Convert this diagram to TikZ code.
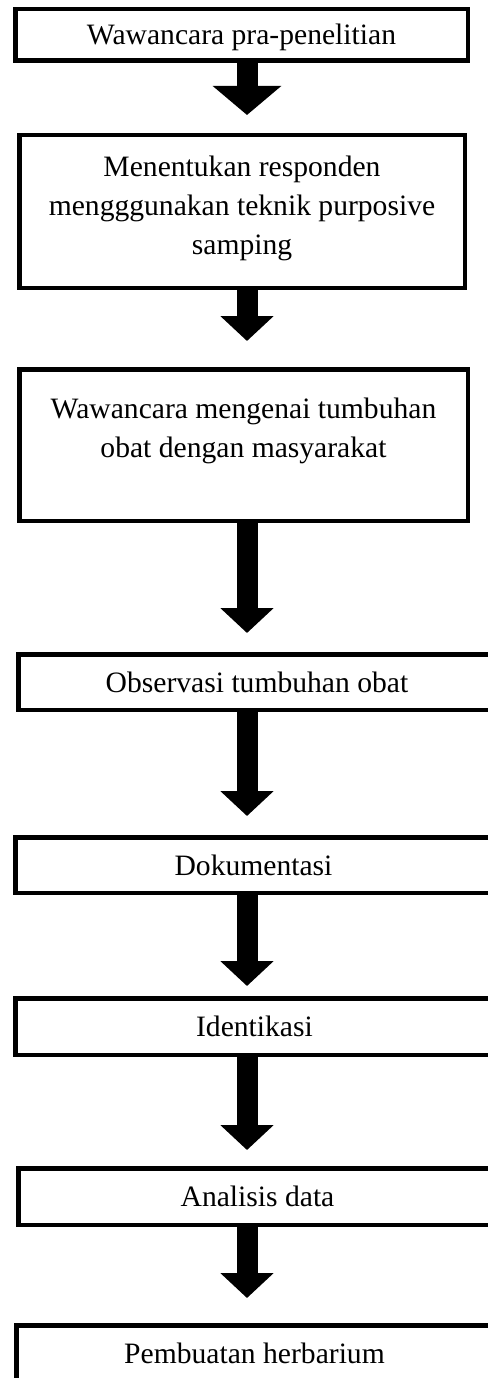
\documentclass[tikz,border=0pt]{standalone}
\usepackage{fontspec}
\setmainfont{Liberation Serif}
\usetikzlibrary{arrows.meta}
\begin{document}
\begin{tikzpicture}[x=1pt,y=1pt,
  stepbox/.style={draw, rectangle, line width=4.5pt, align=center, inner sep=0pt,
    text height=20pt, text depth=0pt, font=\fontsize{29.6}{39}\selectfont},
  flowarrow/.style={line width=21pt, -{Triangle[width=52pt,length=25pt]}}]
\useasboundingbox (0,0) rectangle (487,-1378);
\coordinate (axis) at (247,0);
\node[stepbox, minimum width=452.5, minimum height=51.5] (pra) at (241.5,-35) {Wawancara pra-penelitian};
\node[stepbox, minimum width=445.5, minimum height=152.5, text height=98pt, text depth=13pt] (responden) at (242,-211.5) {Menentukan responden\\mengggunakan teknik purposive\\samping};
\node[stepbox, minimum width=448.5, minimum height=151.5, text height=59pt, text depth=35pt] (wawancara) at (243.5,-445) {Wawancara mengenai tumbuhan\\obat dengan masyarakat};
\node[stepbox, minimum width=477.5, minimum height=55.5] (observasi) at (257,-682) {Observasi tumbuhan obat};
\node[stepbox, minimum width=476.5, minimum height=55.5] (dokumentasi) at (253.5,-865) {Dokumentasi};
\node[stepbox, minimum width=478.5, minimum height=56.5] (identikasi) at (254.5,-1026.5) {Identikasi};
\node[stepbox, minimum width=478.5, minimum height=56.5] (analisis) at (257.5,-1196.5) {Analisis data};
\node[stepbox, minimum width=476.5, minimum height=55.5] (herbarium) at (254.5,-1353) {Pembuatan herbarium};
\path[draw,flowarrow,-{Triangle[width=67pt,length=29pt]},shorten >=18pt] (pra.south -| axis) -- (responden.north -| axis);
\path[draw,flowarrow,shorten >=26pt] (responden.south -| axis) -- (wawancara.north -| axis);
\path[draw,flowarrow,shorten >=19pt] (wawancara.south -| axis) -- (observasi.north -| axis);
\path[draw,flowarrow,shorten >=19pt] (observasi.south -| axis) -- (dokumentasi.north -| axis);
\path[draw,flowarrow,shorten >=10pt] (dokumentasi.south -| axis) -- (identikasi.north -| axis);
\path[draw,flowarrow,shorten >=16pt] (identikasi.south -| axis) -- (analisis.north -| axis);
\path[draw,flowarrow,shorten >=25pt] (analisis.south -| axis) -- (herbarium.north -| axis);
\end{tikzpicture}
\end{document}
